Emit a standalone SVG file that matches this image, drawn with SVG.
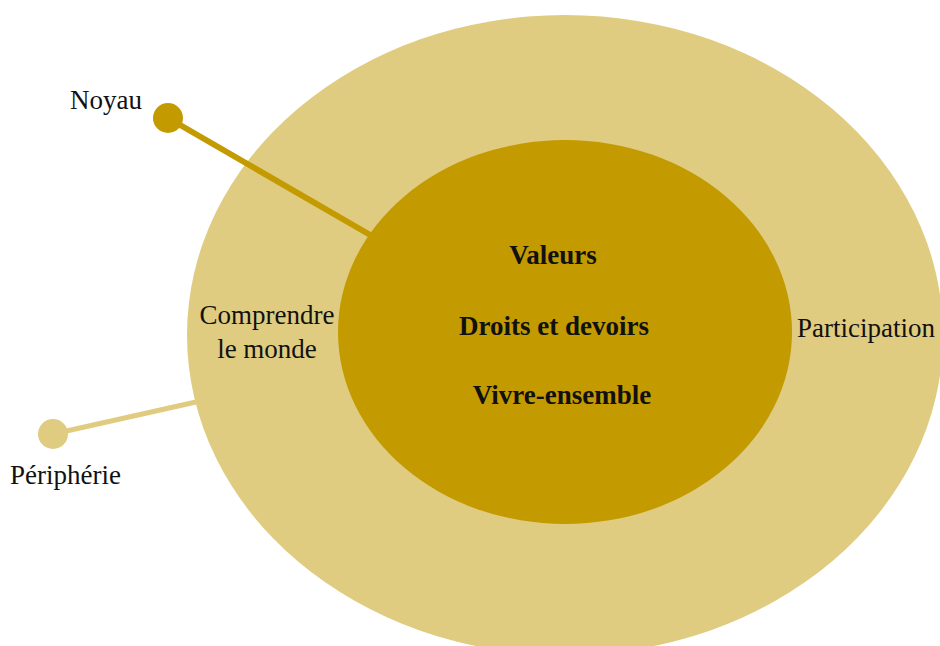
<svg xmlns="http://www.w3.org/2000/svg" width="940" height="646" viewBox="0 0 940 646">
<style>
text{font-family:"Liberation Serif","Times New Roman",serif;font-size:27px;fill:#111}
.b{font-weight:bold;text-anchor:middle}
.m{text-anchor:middle}
</style>
<rect width="940" height="646" fill="#fff"/>
<g id="outer"><ellipse cx="565" cy="335" rx="378" ry="320" fill="#DFCC80"/></g>
<g id="connectors">
<line x1="168" y1="118" x2="372" y2="236" stroke="#C39A00" stroke-width="6"/>
<line x1="53" y1="434" x2="196" y2="402" stroke="#DFCC80" stroke-width="5"/>
</g>
<g id="inner"><ellipse cx="565" cy="332" rx="227" ry="192" fill="#C39A00"/></g>
<g id="noyau"><circle cx="168" cy="118" r="15" fill="#C39A00"/><text x="70" y="109">Noyau</text></g>
<g id="peripherie"><circle cx="53" cy="434" r="15" fill="#DFCC80"/><text x="10" y="484">Périphérie</text></g>
<g id="comprendre"><text class="m" x="267" y="324">Comprendre</text><text class="m" x="267" y="358">le monde</text></g>
<g id="participation"><text x="797" y="337">Participation</text></g>
<g id="core-labels">
<text class="b" x="553" y="264">Valeurs</text>
<text class="b" x="554" y="335">Droits et devoirs</text>
<text class="b" x="562" y="404">Vivre-ensemble</text>
</g>
</svg>
